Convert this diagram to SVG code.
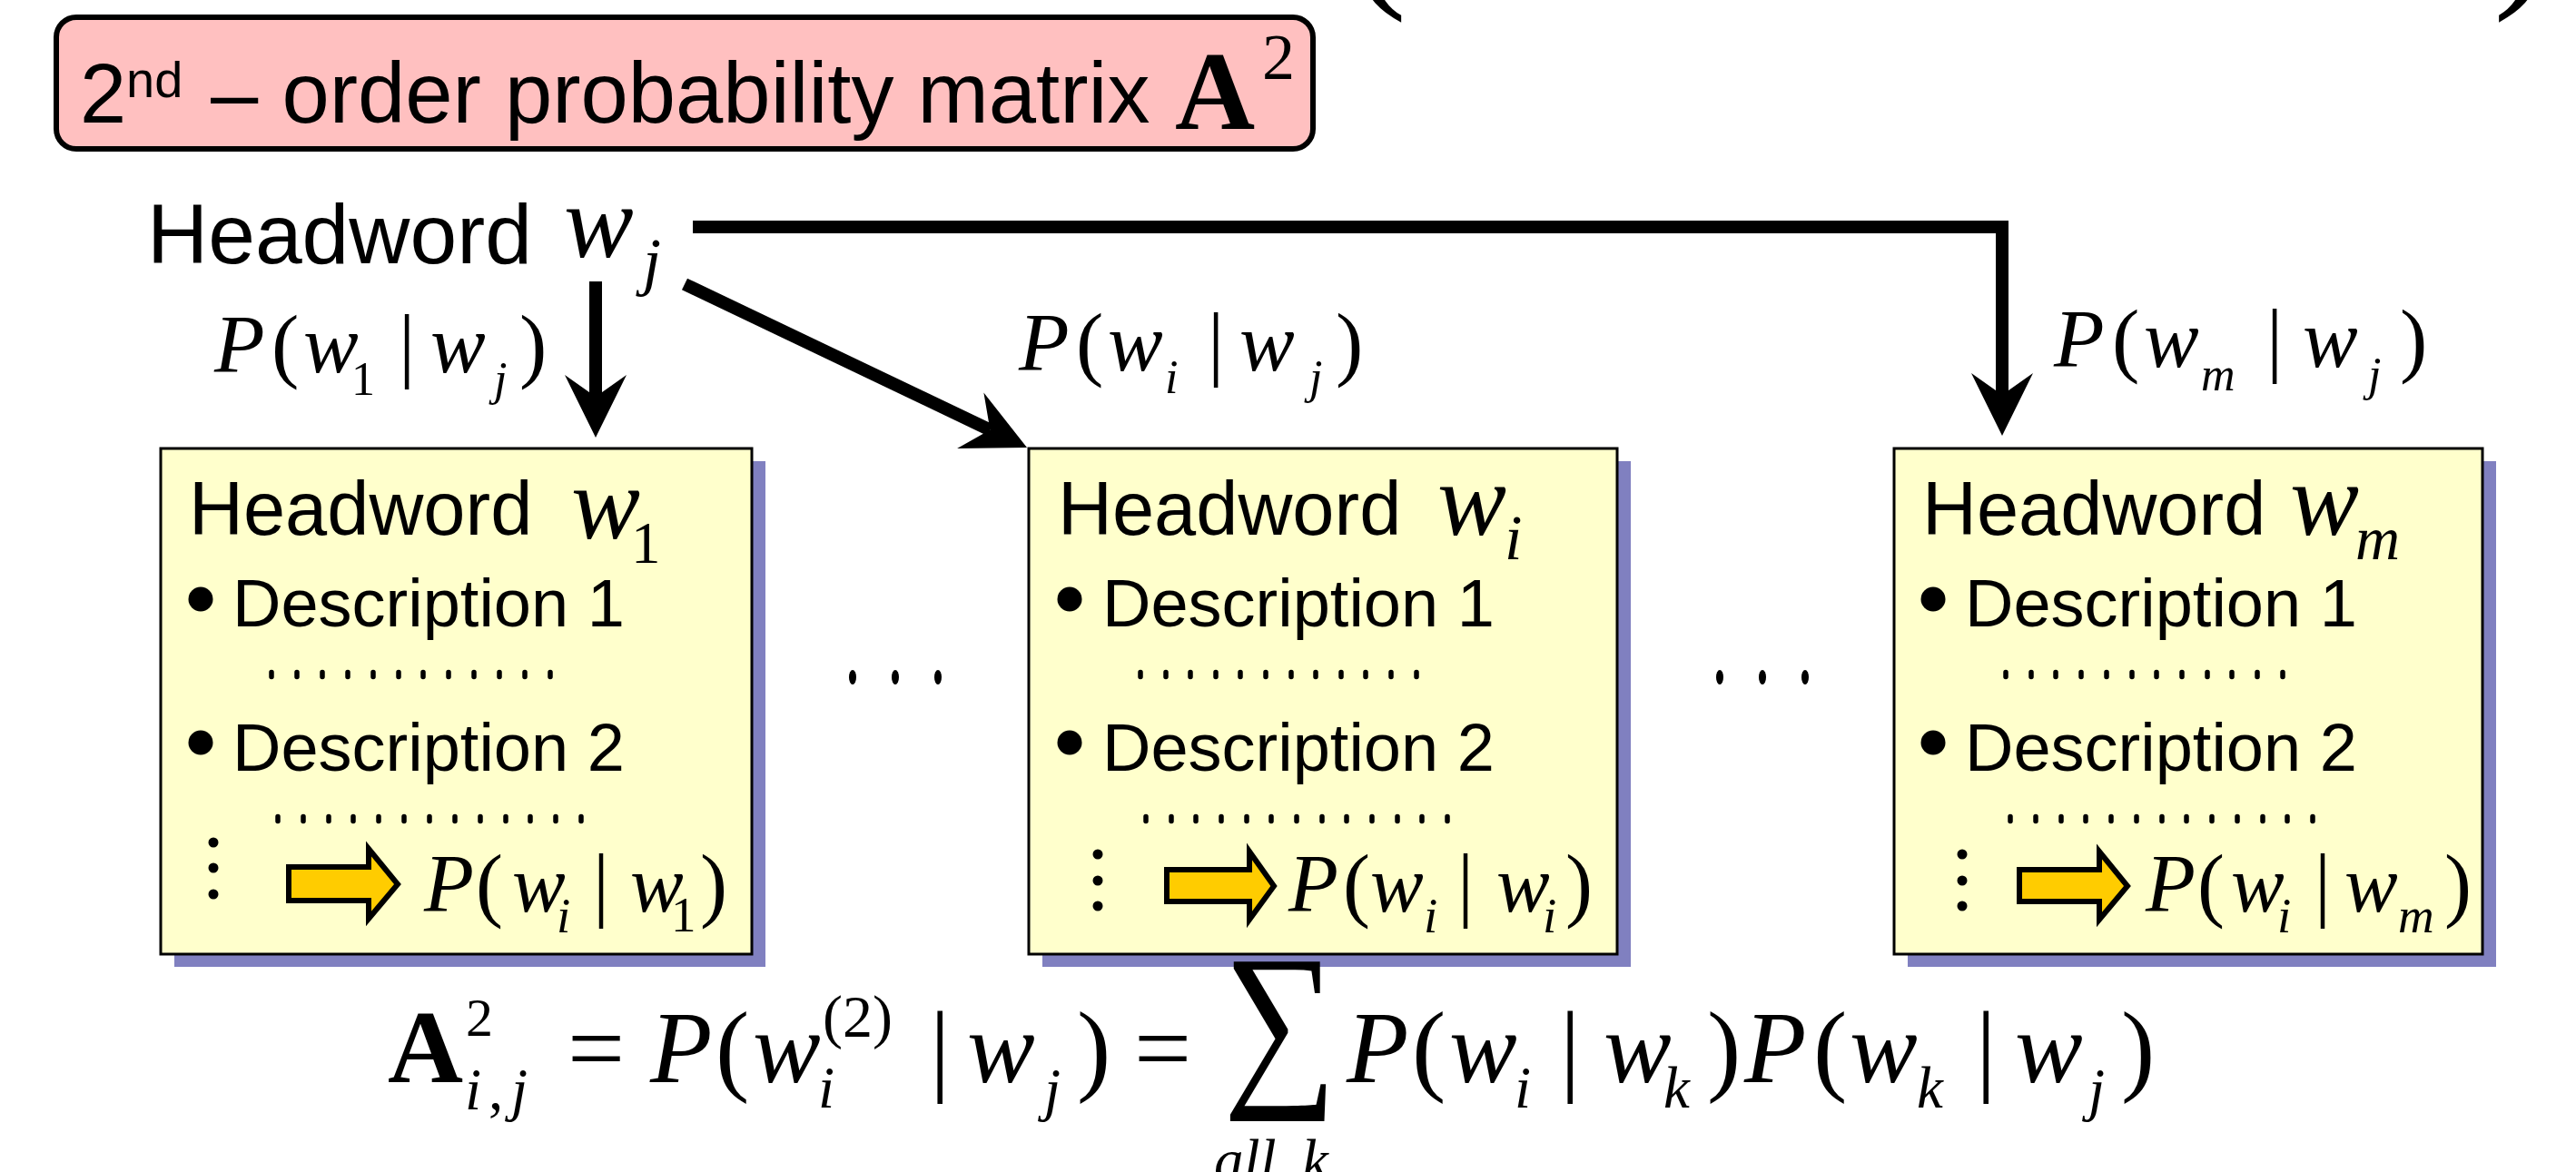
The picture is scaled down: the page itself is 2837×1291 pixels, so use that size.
<svg xmlns="http://www.w3.org/2000/svg" width="2837" height="1291" viewBox="0 0 2837 1291">
<style>
.sans{font-family:"Liberation Sans",Arial,sans-serif;fill:#000}
.serif{font-family:"Liberation Serif","Times New Roman",serif;fill:#000}
.it{font-style:italic}
.bd{font-weight:bold}
.box{fill:#FFFFCC;stroke:#000;stroke-width:3}
.shadow{fill:#8080C0}
.conn{stroke:#000;stroke-width:14;fill:none;stroke-linejoin:miter}
.blk{fill:#FFCC00;stroke:#000;stroke-width:6;stroke-linejoin:miter}
.dots{stroke:#000;stroke-width:5.5;stroke-linecap:round;fill:none}
</style>
<defs>
<marker id="ah" markerUnits="userSpaceOnUse" viewBox="-30 -40 80 80" markerWidth="80" markerHeight="80" refX="0" refY="0" orient="auto">
<path d="M45,0 L-24,-34 L0,0 L-24,34 Z" fill="#000"/>
</marker>
</defs>
<rect width="2837" height="1291" fill="#fff"/>

<g id="top-parens">
<text class="serif" font-size="190" x="1486" y="-16">(</text>
<text class="serif" font-size="190" x="2746" y="-16">)</text>
</g>

<g id="title">
<rect x="62" y="19" width="1384" height="145" rx="22" fill="#FFC0C0" stroke="#000" stroke-width="6"/>
<text class="sans"><tspan x="88" y="135" font-size="92">2</tspan><tspan x="139" y="107" font-size="56">nd</tspan><tspan x="232" y="135" font-size="94">– order probability matrix</tspan></text>
<text class="serif bd" font-size="122" x="1294" y="142">A</text>
<text class="serif" font-size="72" x="1390" y="87">2</text>
</g>

<g id="headword-wj">
<text class="sans" font-size="93" x="162" y="290">Headword</text>
<text class="serif it" font-size="115" x="621" y="283">w</text>
<text class="serif it" font-size="72" x="708" y="312">j</text>
</g>

<g id="connectors">
<path class="conn" d="M656,310 V437" marker-end="url(#ah)"/>
<path class="conn" d="M754,313 L1090.4,473.6" marker-end="url(#ah)"/>
<path class="conn" d="M763,250 H2205 V435" marker-end="url(#ah)"/>
</g>

<g id="labels">
<g id="label-p1">
<text class="serif it" font-size="91" x="236" y="410">P</text>
<text class="serif" font-size="91" x="299" y="410">(</text>
<text class="serif it" font-size="91" x="334" y="410">w</text>
<text class="serif" font-size="52" x="387" y="435">1</text>
<text class="serif" font-size="91" x="439" y="410">|</text>
<text class="serif it" font-size="91" x="474" y="410">w</text>
<text class="serif it" font-size="52" x="544" y="435">j</text>
<text class="serif" font-size="91" x="572" y="410">)</text>
</g>
<g id="label-pi">
<text class="serif it" font-size="91" x="1122" y="408">P</text>
<text class="serif" font-size="91" x="1185" y="408">(</text>
<text class="serif it" font-size="91" x="1220" y="408">w</text>
<text class="serif it" font-size="52" x="1283" y="433">i</text>
<text class="serif" font-size="91" x="1330" y="408">|</text>
<text class="serif it" font-size="91" x="1365" y="408">w</text>
<text class="serif it" font-size="52" x="1442" y="433">j</text>
<text class="serif" font-size="91" x="1471" y="408">)</text>
</g>
<g id="label-pm">
<text class="serif it" font-size="91" x="2262" y="404">P</text>
<text class="serif" font-size="91" x="2326" y="404">(</text>
<text class="serif it" font-size="91" x="2361" y="404">w</text>
<text class="serif it" font-size="52" x="2424" y="430">m</text>
<text class="serif" font-size="91" x="2496" y="404">|</text>
<text class="serif it" font-size="91" x="2536" y="404">w</text>
<text class="serif it" font-size="52" x="2608" y="430">j</text>
<text class="serif" font-size="91" x="2643" y="404">)</text>
</g>
</g>

<g id="node-w1">
<rect class="shadow" x="192" y="508" width="651" height="557"/>
<rect class="box" x="177" y="494" width="651" height="557"/>
<text class="sans" font-size="83" x="208" y="589">Headword</text>
<text class="serif it" font-size="114" x="629" y="593">w</text>
<text class="serif" font-size="65" x="695" y="620">1</text>
<circle cx="221" cy="660" r="13.5"/>
<text class="sans" font-size="74" x="256" y="690">Description 1</text>
<path class="dots" d="M299,740.5v5M327,740.5v5M355,740.5v5M383,740.5v5M411,740.5v5M439,740.5v5M466,740.5v5M494,740.5v5M522,740.5v5M550,740.5v5M578,740.5v5M606,740.5v5"/>
<circle cx="221" cy="818" r="13.5"/>
<text class="sans" font-size="74" x="256" y="849">Description 2</text>
<path class="dots" d="M306,899.5v5M334,899.5v5M362,899.5v5M389,899.5v5M417,899.5v5M445,899.5v5M473,899.5v5M501,899.5v5M529,899.5v5M557,899.5v5M584,899.5v5M612,899.5v5M640,899.5v5"/>
<circle cx="235" cy="928" r="5.5"/>
<circle cx="235" cy="956" r="5.5"/>
<circle cx="235" cy="985" r="5.5"/>
<path class="blk" d="M318,955 H406 V935 L438,974 L406,1012 V992 H318 Z"/>
<text class="serif it" font-size="90" x="467" y="1004">P</text>
<text class="serif" font-size="90" x="524" y="1004">(</text>
<text class="serif it" font-size="88" x="564" y="1004">w</text>
<text class="serif it" font-size="55" x="613" y="1027">i</text>
<text class="serif" font-size="90" x="653" y="1004">|</text>
<text class="serif it" font-size="88" x="694" y="1004">w</text>
<text class="serif" font-size="55" x="739" y="1026">1</text>
<text class="serif" font-size="90" x="771" y="1004">)</text>
</g>

<g id="node-wi">
<rect class="shadow" x="1148" y="508" width="648" height="557"/>
<rect class="box" x="1133" y="494" width="648" height="557"/>
<text class="sans" font-size="83" x="1165" y="589">Headword</text>
<text class="serif it" font-size="114" x="1583" y="589">w</text>
<text class="serif it" font-size="70" x="1657" y="616">i</text>
<circle cx="1178" cy="660" r="13.5"/>
<text class="sans" font-size="74" x="1214" y="690">Description 1</text>
<path class="dots" d="M1256,740.5v5M1284,740.5v5M1311,740.5v5M1339,740.5v5M1366,740.5v5M1394,740.5v5M1422,740.5v5M1449,740.5v5M1477,740.5v5M1504,740.5v5M1532,740.5v5M1560,740.5v5"/>
<circle cx="1178" cy="818" r="13.5"/>
<text class="sans" font-size="74" x="1214" y="849">Description 2</text>
<path class="dots" d="M1262,899.5v5M1290,899.5v5M1317,899.5v5M1345,899.5v5M1373,899.5v5M1400,899.5v5M1428,899.5v5M1456,899.5v5M1483,899.5v5M1511,899.5v5M1539,899.5v5M1566,899.5v5M1594,899.5v5"/>
<circle cx="1209" cy="941" r="5.5"/>
<circle cx="1209" cy="970" r="5.5"/>
<circle cx="1209" cy="998" r="5.5"/>
<path class="blk" d="M1285,958 H1376 V938 L1403,976 L1376,1013 V993 H1285 Z"/>
<text class="serif it" font-size="90" x="1419" y="1004">P</text>
<text class="serif" font-size="90" x="1479" y="1004">(</text>
<text class="serif it" font-size="88" x="1509" y="1004">w</text>
<text class="serif it" font-size="55" x="1568" y="1027">i</text>
<text class="serif" font-size="90" x="1605" y="1004">|</text>
<text class="serif it" font-size="88" x="1648" y="1004">w</text>
<text class="serif it" font-size="55" x="1699" y="1027">i</text>
<text class="serif" font-size="90" x="1724" y="1004">)</text>
</g>

<g id="node-wm">
<rect class="shadow" x="2101" y="508" width="648" height="557"/>
<rect class="box" x="2086" y="494" width="648" height="557"/>
<text class="sans" font-size="83" x="2117" y="589">Headword</text>
<text class="serif it" font-size="114" x="2522" y="589">w</text>
<text class="serif it" font-size="68" x="2594" y="616">m</text>
<circle cx="2129" cy="660" r="13.5"/>
<text class="sans" font-size="74" x="2164" y="690">Description 1</text>
<path class="dots" d="M2209,740.5v5M2237,740.5v5M2264,740.5v5M2292,740.5v5M2320,740.5v5M2348,740.5v5M2375,740.5v5M2403,740.5v5M2431,740.5v5M2458,740.5v5M2486,740.5v5M2514,740.5v5"/>
<circle cx="2129" cy="818" r="13.5"/>
<text class="sans" font-size="74" x="2164" y="849">Description 2</text>
<path class="dots" d="M2214,899.5v5M2242,899.5v5M2270,899.5v5M2297,899.5v5M2325,899.5v5M2353,899.5v5M2381,899.5v5M2408,899.5v5M2436,899.5v5M2464,899.5v5M2492,899.5v5M2519,899.5v5M2547,899.5v5"/>
<circle cx="2161" cy="941" r="5.5"/>
<circle cx="2161" cy="970" r="5.5"/>
<circle cx="2161" cy="998" r="5.5"/>
<path class="blk" d="M2224,958 H2312 V938 L2343,976 L2312,1013 V993 H2224 Z"/>
<text class="serif it" font-size="90" x="2363" y="1004">P</text>
<text class="serif" font-size="90" x="2420" y="1004">(</text>
<text class="serif it" font-size="88" x="2457" y="1004">w</text>
<text class="serif it" font-size="55" x="2508" y="1027">i</text>
<text class="serif" font-size="90" x="2549" y="1004">|</text>
<text class="serif it" font-size="88" x="2582" y="1004">w</text>
<text class="serif it" font-size="55" x="2641" y="1027">m</text>
<text class="serif" font-size="90" x="2692" y="1004">)</text>
</g>

<g id="gap-dots">
<ellipse cx="939" cy="746" rx="4" ry="8"/>
<ellipse cx="986" cy="746" rx="4" ry="8"/>
<ellipse cx="1033" cy="746" rx="4" ry="8"/>
<ellipse cx="1894" cy="746" rx="4" ry="8"/>
<ellipse cx="1941" cy="746" rx="4" ry="8"/>
<ellipse cx="1988" cy="746" rx="4" ry="8"/>
</g>

<g id="formula">
<text class="serif bd" font-size="115" x="427" y="1192">A</text>
<text class="serif" font-size="60" x="513" y="1141">2</text>
<text class="serif it" font-size="65" x="512" y="1222">i</text>
<text class="serif" font-size="65" x="538" y="1222">,</text>
<text class="serif it" font-size="65" x="563" y="1222">j</text>
<text class="serif" font-size="112" x="625" y="1192">=</text>
<text class="serif it" font-size="112" x="716" y="1192">P</text>
<text class="serif" font-size="112" x="788" y="1192">(</text>
<text class="serif it" font-size="112" x="829" y="1192">w</text>
<text class="serif it" font-size="65" x="901" y="1220">i</text>
<text class="serif" font-size="66" x="906" y="1142">(2)</text>
<text class="serif" font-size="112" x="1024" y="1192">|</text>
<text class="serif it" font-size="112" x="1065" y="1192">w</text>
<text class="serif it" font-size="65" x="1150" y="1222">j</text>
<text class="serif" font-size="112" x="1186" y="1192">)</text>
<text class="serif" font-size="112" x="1249" y="1192">=</text>
<text class="serif" font-size="176" transform="translate(1347,1192) scale(1,1.15)" x="0" y="0">∑</text>
<text class="serif it" font-size="65" x="1337" y="1300">all</text>
<text class="serif it" font-size="65" x="1434" y="1300">k</text>
<text class="serif it" font-size="112" x="1483" y="1192">P</text>
<text class="serif" font-size="112" x="1555" y="1192">(</text>
<text class="serif it" font-size="112" x="1596" y="1192">w</text>
<text class="serif it" font-size="65" x="1668" y="1220">i</text>
<text class="serif" font-size="112" x="1718" y="1192">|</text>
<text class="serif it" font-size="112" x="1766" y="1192">w</text>
<text class="serif it" font-size="65" x="1832" y="1220">k</text>
<text class="serif" font-size="112" x="1880" y="1192">)</text>
<text class="serif it" font-size="112" x="1921" y="1192">P</text>
<text class="serif" font-size="112" x="1997" y="1192">(</text>
<text class="serif it" font-size="112" x="2037" y="1192">w</text>
<text class="serif it" font-size="65" x="2111" y="1220">k</text>
<text class="serif" font-size="112" x="2176" y="1192">|</text>
<text class="serif it" font-size="112" x="2219" y="1192">w</text>
<text class="serif it" font-size="65" x="2300" y="1222">j</text>
<text class="serif" font-size="112" x="2336" y="1192">)</text>
</g>
</svg>
